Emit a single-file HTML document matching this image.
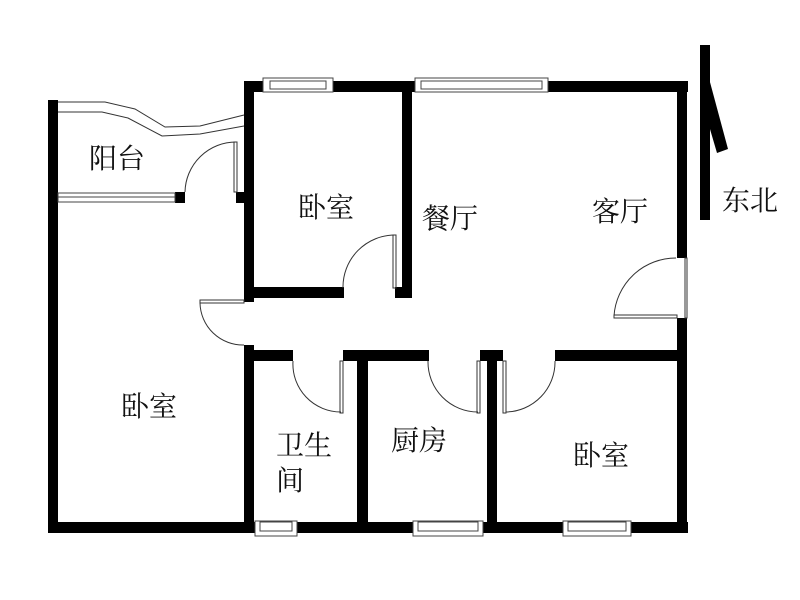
<!DOCTYPE html><html><head><meta charset="utf-8"><style>body{margin:0;background:#fff}svg{display:block}text{font-family:"Liberation Serif","Noto Serif CJK SC",serif;font-size:28px;fill:#111}</style></head><body>
<svg width="800" height="600" viewBox="0 0 800 600">
<g fill="#000">
<rect x="48" y="100" width="10" height="432"/>
<rect x="48" y="522" width="640" height="11"/>
<rect x="677" y="82" width="10" height="176"/>
<rect x="677" y="318" width="10" height="214"/>
<rect x="244" y="81" width="444" height="11"/>
<rect x="244" y="81" width="10" height="221"/>
<rect x="244" y="345" width="10" height="187"/>
<rect x="244" y="287" width="100" height="11"/>
<rect x="395" y="287" width="16" height="11"/>
<rect x="402" y="81" width="10" height="217"/>
<rect x="244" y="350" width="49" height="11"/>
<rect x="343" y="350" width="86" height="11"/>
<rect x="480" y="350" width="23" height="11"/>
<rect x="555" y="350" width="132" height="11"/>
<rect x="357" y="350" width="11" height="182"/>
<rect x="487" y="350" width="10" height="182"/>
<rect x="175" y="192" width="10" height="11"/>
<rect x="236" y="192" width="8" height="11"/>
<rect x="700" y="45" width="10" height="175"/>
<polygon points="700,45 728,149 717,153 700,95"/>
</g>
<g fill="#fff" stroke="#444" stroke-width="1">
<rect x="263" y="78" width="70" height="14"/><rect x="270" y="81" width="56" height="8"/>
<rect x="415" y="78" width="133" height="14"/><rect x="421" y="81" width="121" height="8"/>
<rect x="255" y="521" width="42" height="15"/><rect x="260" y="522" width="32" height="9"/>
<rect x="413" y="521" width="70" height="15"/><rect x="418" y="522" width="60" height="9"/>
<rect x="563" y="521" width="68" height="15"/><rect x="568" y="522" width="58" height="9"/>
<rect x="58" y="193" width="117" height="9"/><line x1="58" y1="197" x2="175" y2="197"/>
</g>
<g fill="none" stroke="#333" stroke-width="1">
<path d="M58,102 L105,102 L135,109 L165,127 L200,126 L244,115"/>
<path d="M58,112 L102,112 L128,118 L162,136 L200,134 L244,126"/>
<rect x="234" y="142" width="3" height="50"/>
<path d="M185,192 A51,51 0 0 1 236,142"/>
<rect x="393" y="235" width="3" height="53"/>
<path d="M343,288 A52,52 0 0 1 395,235"/>
<rect x="200" y="300" width="44" height="3"/>
<path d="M200,303 A43,43 0 0 0 244,345"/>
<rect x="340" y="361" width="3" height="52"/>
<path d="M293,361 A48,48 0 0 0 341,412"/>
<rect x="477" y="361" width="3" height="52"/>
<path d="M428,361 A50,50 0 0 0 478,412"/>
<rect x="503" y="361" width="3" height="52"/>
<path d="M555,361 A50,50 0 0 1 506,412"/>
<rect x="685" y="258" width="2" height="60"/>
<rect x="614" y="315" width="63" height="3"/>
<path d="M614,316 A62,62 0 0 1 676,258"/>
</g>
<text x="89" y="168">阳台</text>
<text x="298" y="217">卧室</text>
<text x="422" y="228">餐厅</text>
<text x="592" y="221">客厅</text>
<text x="121" y="416">卧室</text>
<text x="276" y="455">卫生</text>
<text x="276" y="490">间</text>
<text x="391" y="450">厨房</text>
<text x="573" y="465">卧室</text>
<text x="722" y="210">东北</text>
</svg></body></html>
